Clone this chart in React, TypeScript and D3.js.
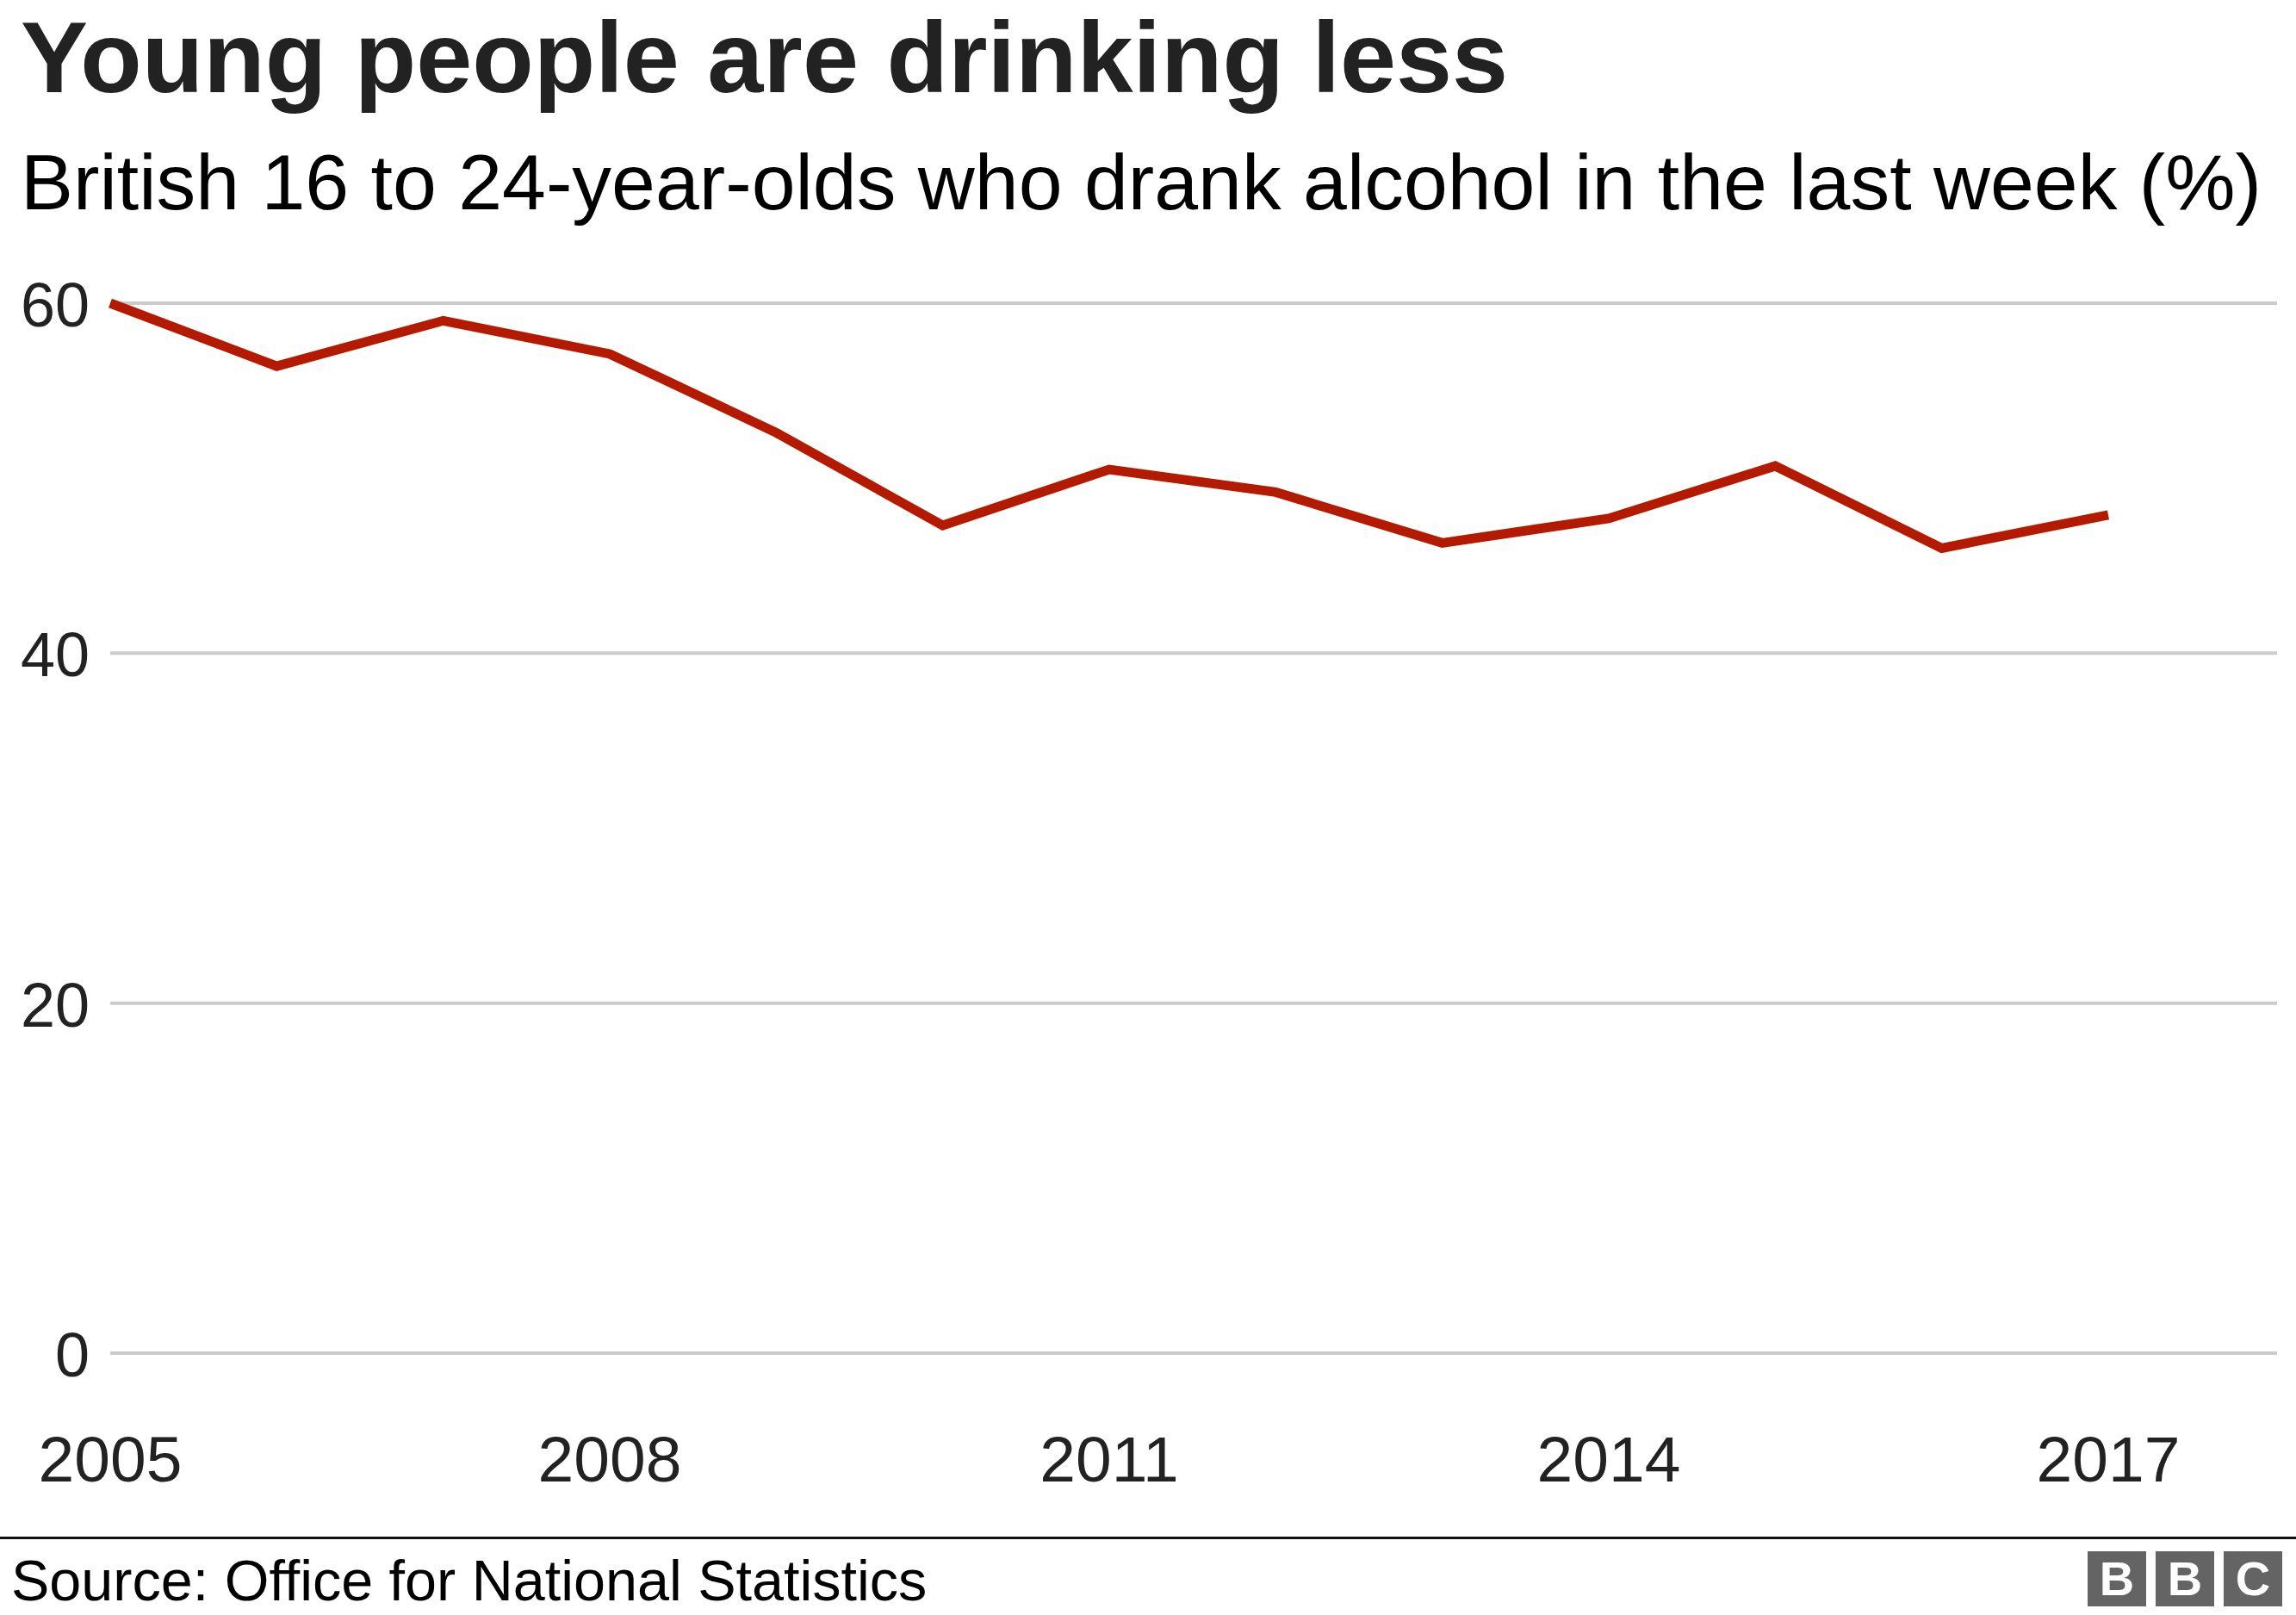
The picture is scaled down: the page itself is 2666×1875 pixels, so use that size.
import React, { useEffect, useRef } from 'react';
import * as d3 from 'd3';

const years = [2005, 2006, 2007, 2008, 2009, 2010, 2011, 2012, 2013, 2014, 2015, 2016, 2017];
const drankLastWeek = [60.0, 56.4, 59.0, 57.1, 52.6, 47.3, 50.5, 49.2, 46.3, 47.7, 50.7, 46.0, 47.9];
const yTicks = [0, 20, 40, 60];
const xTicks = [2005, 2008, 2011, 2014, 2017];

const title = 'Young people are drinking less';
const subtitle = 'British 16 to 24-year-olds who drank alcohol in the last week (%)';
const source = 'Source: Office for National Statistics';

const App: React.FC = () => {
  const svgRef = useRef<SVGSVGElement>(null);
  const width = 2666;
  const height = 1875;

  useEffect(() => {
    if (!svgRef.current) return;
    const svg = d3.select(svgRef.current);
    svg.selectAll('*').remove();

    const font = '"Liberation Sans", Arial, Helvetica, sans-serif';
    const ink = '#222222';

    // Plot area
    const left = 128;
    const right = 2644;
    const top = 352;
    const bottom = 1571;

    const x = d3.scaleLinear().domain([2005, 2017]).range([left, 2448]);
    const y = d3.scaleLinear().domain([0, 60]).range([bottom, top]);

    svg.append('rect')
      .attr('width', width)
      .attr('height', height)
      .attr('fill', '#ffffff');

    // Titles
    svg.append('text')
      .attr('x', 24)
      .attr('y', 107)
      .attr('font-family', font)
      .attr('font-weight', 'bold')
      .attr('font-size', 117)
      .attr('fill', ink)
      .text(title);

    svg.append('text')
      .attr('x', 24)
      .attr('y', 243)
      .attr('font-family', font)
      .attr('font-size', 90)
      .attr('textLength', 2602)
      .attr('lengthAdjust', 'spacingAndGlyphs')
      .attr('fill', '#000000')
      .text(subtitle);

    // Gridlines
    svg.append('g')
      .selectAll('line')
      .data(yTicks)
      .enter()
      .append('line')
      .attr('x1', left)
      .attr('x2', right)
      .attr('y1', d => y(d))
      .attr('y2', d => y(d))
      .attr('stroke', '#cccccc')
      .attr('stroke-width', 4);

    // Y labels
    svg.append('g')
      .selectAll('text')
      .data(yTicks)
      .enter()
      .append('text')
      .attr('x', 104)
      .attr('y', d => y(d) + 27)
      .attr('text-anchor', 'end')
      .attr('font-family', font)
      .attr('font-size', 72)
      .attr('fill', ink)
      .text(d => d);

    // X labels
    svg.append('g')
      .selectAll('text')
      .data(xTicks)
      .enter()
      .append('text')
      .attr('x', d => x(d))
      .attr('y', 1720)
      .attr('text-anchor', 'middle')
      .attr('font-family', font)
      .attr('font-size', 75)
      .attr('fill', ink)
      .text(d => d);

    // Line
    const line = d3.line<number>()
      .x((_, i) => x(years[i]))
      .y(d => y(d));

    svg.append('path')
      .datum(drankLastWeek)
      .attr('d', line)
      .attr('fill', 'none')
      .attr('stroke', '#b41a00')
      .attr('stroke-width', 11)
      .attr('stroke-linejoin', 'miter');

    // Footer
    svg.append('line')
      .attr('x1', 0)
      .attr('x2', width)
      .attr('y1', 1785.5)
      .attr('y2', 1785.5)
      .attr('stroke', '#111111')
      .attr('stroke-width', 3);

    svg.append('text')
      .attr('x', 13)
      .attr('y', 1858)
      .attr('font-family', font)
      .attr('font-size', 66.5)
      .attr('fill', '#000000')
      .text(source);

    const logo = svg.append('g');
    ['B', 'B', 'C'].forEach((letter, i) => {
      const bx = 2424 + i * 79;
      logo.append('rect')
        .attr('x', bx)
        .attr('y', 1801)
        .attr('width', 68)
        .attr('height', 64)
        .attr('fill', '#646464');
      logo.append('text')
        .attr('x', bx + 34)
        .attr('y', 1852)
        .attr('text-anchor', 'middle')
        .attr('font-family', font)
        .attr('font-weight', 'bold')
        .attr('font-size', 56)
        .attr('fill', '#ffffff')
        .text(letter);
    });
  }, []);

  return (
    <div style={{ position: 'absolute', left: 0, top: 0 }}>
      <svg ref={svgRef} width={width} height={height} style={{ display: 'block' }} />
    </div>
  );
};

export default App;
